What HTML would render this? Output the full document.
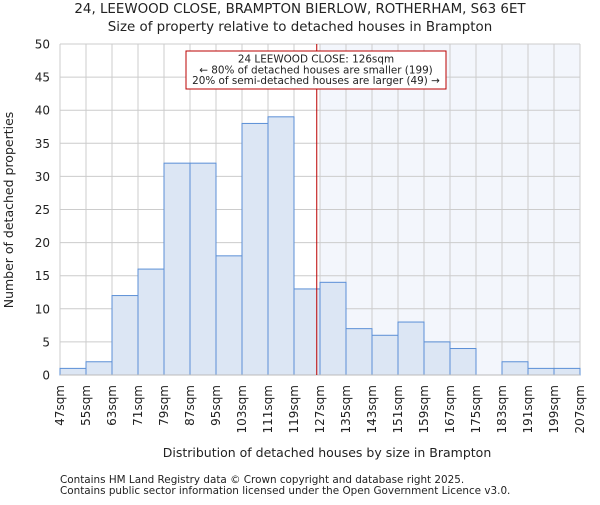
<!DOCTYPE html>
<html><head><meta charset="utf-8"><style>
body{margin:0;background:#fff}
svg text{font-family:"DejaVu Sans","Liberation Sans",sans-serif;fill:#222}
</style></head><body>
<svg id="chart" width="600" height="500">
<text x="300" y="13" text-anchor="middle" font-size="13.4">24, LEEWOOD CLOSE, BRAMPTON BIERLOW, ROTHERHAM, S63 6ET</text>
<text x="300" y="31" text-anchor="middle" font-size="13.4">Size of property relative to detached houses in Brampton</text>
<g id="plot"></g>
<text x="327" y="457" text-anchor="middle" font-size="12.5">Distribution of detached houses by size in Brampton</text>
<text transform="translate(13,210) rotate(-90)" text-anchor="middle" font-size="12.5">Number of detached properties</text>
<text x="60" y="483" font-size="10.4" fill="#444">Contains HM Land Registry data © Crown copyright and database right 2025.</text>
<text x="60" y="494" font-size="10.4" fill="#444">Contains public sector information licensed under the Open Government Licence v3.0.</text>
</svg>
<script>
const binStarts=[47,55,63,71,79,87,95,103,111,119,127,135,143,151,159,167,175,183,191,199];
const counts=[1,2,12,16,32,32,18,38,39,13,14,7,6,8,5,4,0,2,1,1];
const xTicks=[47,55,63,71,79,87,95,103,111,119,127,135,143,151,159,167,175,183,191,199,207];
const yTicks=[0,5,10,15,20,25,30,35,40,45,50];
const propertySize=126;
const binWidth=8;
const X0=60,X1=580,Y0=375,Y1=44;
const xMin=47,xMax=207,yMax=50;
const sx=v=>X0+(v-xMin)/(xMax-xMin)*(X1-X0);
const sy=v=>Y0-v/yMax*(Y0-Y1);
const NS='http://www.w3.org/2000/svg';
const g=document.getElementById('plot');
function mk(t,a){const e=document.createElementNS(NS,t);for(const k in a)e.setAttribute(k,a[k]);g.appendChild(e);return e;}
const sh=mk('rect',{x:sx(propertySize)+3,y:Y1,width:X1-sx(propertySize)-3,height:Y0-Y1,fill:'#f3f6fc'});


xTicks.forEach(t=>{const l=mk('line',{x1:sx(t),x2:sx(t),y1:Y1,y2:Y0,stroke:'#ccc','stroke-width':1});


const tx=mk('text',{transform:`translate(${sx(t)+4},${Y0+10}) rotate(-90)`,'text-anchor':'end','font-size':'12'});tx.textContent=t+'sqm';

});
yTicks.forEach(t=>{const l=mk('line',{x1:X0,x2:X1,y1:sy(t),y2:sy(t),stroke:'#ccc','stroke-width':1});


const tx=mk('text',{x:X0-10,y:sy(t)+4.5,'text-anchor':'end','font-size':'12'});tx.textContent=t;

});
binStarts.forEach((b,i)=>{if(counts[i]<=0)return;const r=mk('rect',{x:sx(b),y:sy(counts[i]),width:sx(b+binWidth)-sx(b),height:Y0-sy(counts[i]),fill:'#dce6f4',stroke:'#5b8fd6','stroke-width':1});

});
const ax=mk('line',{x1:X0,x2:X1,y1:Y0,y2:Y0,stroke:'#bbb','stroke-width':1});


const pl=mk('line',{x1:sx(propertySize),x2:sx(propertySize),y1:Y1,y2:Y0,stroke:'#b00','stroke-width':1});


const box=mk('rect',{x:186,y:51,width:260,height:38,fill:'#fff',stroke:'#b00','stroke-width':1});


['24 LEEWOOD CLOSE: 126sqm','← 80% of detached houses are smaller (199)','20% of semi-detached houses are larger (49) →'].forEach((s,i)=>{const t=mk('text',{x:316,y:62.5+i*10.8,'text-anchor':'middle','font-size':'10.4'});t.textContent=s;

});
</script>
</body></html>
